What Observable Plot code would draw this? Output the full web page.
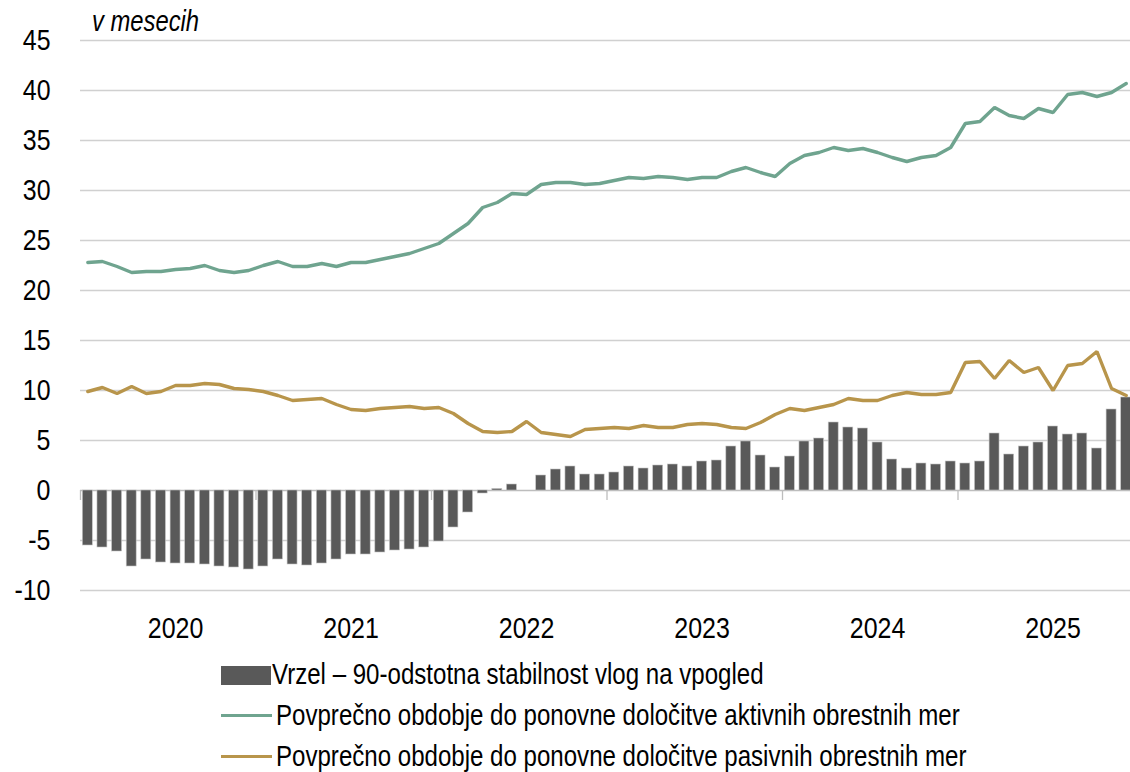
<!DOCTYPE html>
<html>
<head>
<meta charset="utf-8">
<script src="https://cdn.jsdelivr.net/npm/d3@7"></script>
<script src="https://cdn.jsdelivr.net/npm/@observablehq/plot@0.6"></script>
<style>
  html, body { margin: 0; padding: 0; background: #fff; }
  #wrap { position: relative; width: 1130px; height: 772px; overflow: hidden; background: #fff;
          font-family: "Liberation Sans Narrow", "Arial Narrow", "Liberation Sans", sans-serif; color: #000; }
  #chart { position: absolute; left: 0; top: 0; }
  .title { position: absolute; left: 92px; top: 7px; font-size: 29px; line-height: 29px; font-style: italic;
           white-space: nowrap; transform: scaleX(0.82); transform-origin: left center; }
  .lg { position: absolute; left: 0; font-size: 29px; line-height: 29px; white-space: nowrap; }
  .lg .txt { position: absolute; white-space: nowrap; transform: scaleX(0.83); transform-origin: left center; }
  .sw { position: absolute; }
</style>
</head>
<body>
<div id="wrap">
  <div id="chart"></div>
</div>
<script>
// ---- categories ----
const years = ["2020", "2021", "2022", "2023", "2024", "2025"];
const monthNames = ["01","02","03","04","05","06","07","08","09","10","11","12"];
const months = years.flatMap(y => monthNames.map(m => `${y}-${m}`));

// ---- series ----
const vrzel = [
  -5.5, -5.7, -6.1, -7.6, -6.9, -7.2, -7.3, -7.3, -7.4, -7.6, -7.7, -7.9,
  -7.6, -6.9, -7.4, -7.5, -7.3, -6.9, -6.4, -6.4, -6.2, -6.0, -5.9, -5.7,
  -5.1, -3.7, -2.2, -0.3, 0.15, 0.6, 0.0, 1.5, 2.1, 2.4, 1.6, 1.6,
  1.8, 2.4, 2.2, 2.5, 2.6, 2.4, 2.9, 3.0, 4.4, 4.9, 3.5, 2.3,
  3.4, 4.9, 5.2, 6.8, 6.3, 6.2, 4.8, 3.1, 2.2, 2.7, 2.6, 2.9,
  2.7, 2.9, 5.7, 3.6, 4.4, 4.8, 6.4, 5.6, 5.7, 4.2, 8.1, 9.3
];
const aktivne = [
  22.8, 22.9, 22.4, 21.8, 21.9, 21.9, 22.1, 22.2, 22.5, 22.0, 21.8, 22.0,
  22.5, 22.9, 22.4, 22.4, 22.7, 22.4, 22.8, 22.8, 23.1, 23.4, 23.7, 24.2,
  24.7, 25.7, 26.7, 28.3, 28.8, 29.7, 29.6, 30.6, 30.8, 30.8, 30.6, 30.7,
  31.0, 31.3, 31.2, 31.4, 31.3, 31.1, 31.3, 31.3, 31.9, 32.3, 31.8, 31.4,
  32.7, 33.5, 33.8, 34.3, 34.0, 34.2, 33.8, 33.3, 32.9, 33.3, 33.5, 34.3,
  36.7, 36.9, 38.3, 37.5, 37.2, 38.2, 37.8, 39.6, 39.8, 39.4, 39.8, 40.7
];
const pasivne = [
  9.9, 10.3, 9.7, 10.4, 9.7, 9.9, 10.5, 10.5, 10.7, 10.6, 10.2, 10.1,
  9.9, 9.5, 9.0, 9.1, 9.2, 8.6, 8.1, 8.0, 8.2, 8.3, 8.4, 8.2,
  8.3, 7.7, 6.7, 5.9, 5.8, 5.9, 6.9, 5.8, 5.6, 5.4, 6.1, 6.2,
  6.3, 6.2, 6.5, 6.3, 6.3, 6.6, 6.7, 6.6, 6.3, 6.2, 6.8, 7.6,
  8.2, 8.0, 8.3, 8.6, 9.2, 9.0, 9.0, 9.5, 9.8, 9.6, 9.6, 9.8,
  12.8, 12.9, 11.2, 13.0, 11.8, 12.3, 10.0, 12.5, 12.7, 13.9, 10.2, 9.5
];

// ---- axis / legend text ----
const yTicks = [-10, -5, 0, 5, 10, 15, 20, 25, 30, 35, 40, 45];
const unitLabel = "v mesecih";
const legendLabels = [
  "Vrzel – 90-odstotna stabilnost vlog na vpogled",
  "Povprečno obdobje do ponovne določitve aktivnih obrestnih mer",
  "Povprečno obdobje do ponovne določitve pasivnih obrestnih mer"
];
const colors = { bar: "#595959", akt: "#6fa48f", pas: "#b8954b" };

const data = months.map((m, i) => ({ i, m, year: m.slice(0, 4), gap: vrzel[i], akt: aktivne[i], pas: pasivne[i] }));
const yearStarts = data.filter(d => d.m.endsWith("-01")).map(d => d.i - 0.5);
const yearCenters = data.filter(d => d.m.endsWith("-07")).map(d => d.i);

const font = '"Liberation Sans Narrow", "Arial Narrow", "Liberation Sans", sans-serif';

const chart = Plot.plot({
  width: 1130,
  height: 650,
  marginLeft: 80,
  marginRight: 0,
  marginTop: 40,
  marginBottom: 60,
  style: { fontFamily: font, fontSize: "29px", color: "#000", background: "#fff", overflow: "visible" },
  x: { type: "linear", domain: [-0.5, months.length - 0.5], range: [80, 1133], axis: null },
  y: { domain: [-10, 45], range: [590, 40], axis: null },
  marks: [
    Plot.ruleY(yTicks.filter(d => d !== 0), { stroke: "#d0d0d0", strokeWidth: 1.3 }),
    Plot.ruleY([0], { stroke: "#bdbdbd", strokeWidth: 1.3 }),
    Plot.ruleX(yearStarts, { x: d => d, y1: 0, y2: -1, stroke: "#bdbdbd", strokeWidth: 1.3 }),
    Plot.rectY(data, { x1: d => d.i - 0.34, x2: d => d.i + 0.34, y1: 0, y2: "gap", fill: colors.bar, stroke: "#c4c4c4", strokeWidth: 0.6 }),
    Plot.line(data, { x: "i", y: "akt", stroke: colors.akt, strokeWidth: 3.4, strokeLinejoin: "miter" }),
    Plot.line(data, { x: "i", y: "pas", stroke: colors.pas, strokeWidth: 3.4, strokeLinejoin: "miter" }),
    Plot.axisY(yTicks, { tickSize: 0, tickPadding: 30, tickFormat: d => String(d), label: null, fontSize: 29 }),
    Plot.axisX(yearCenters, { tickSize: 0, tickPadding: 27, tickFormat: i => months[i].slice(0, 4), label: null, fontSize: 29, anchor: "bottom" })
  ]
});
document.getElementById("chart").appendChild(chart);

// condense the axis text to imitate a narrow typeface
chart.querySelectorAll("text").forEach(t => {
  const w = t.getComputedTextLength();
  if (w > 0) {
    t.setAttribute("textLength", (w * 0.86).toFixed(1));
    t.setAttribute("lengthAdjust", "spacingAndGlyphs");
  }
});

const wrap = document.getElementById("wrap");
const t = document.createElement("div");
t.className = "title";
t.textContent = unitLabel;
wrap.appendChild(t);

const rowTops = [660, 701, 742];
legendLabels.forEach((lab, k) => {
  const row = document.createElement("div");
  row.className = "lg";
  row.style.top = rowTops[k] + "px";
  row.style.width = "1130px";
  row.style.height = "30px";
  const sw = document.createElement("div");
  sw.className = "sw";
  if (k === 0) {
    sw.style.left = "221px"; sw.style.top = "6px"; sw.style.width = "50px"; sw.style.height = "19px";
    sw.style.background = colors.bar;
  } else {
    sw.style.left = "221px"; sw.style.top = "13px"; sw.style.width = "51px"; sw.style.height = "3px";
    sw.style.background = k === 1 ? colors.akt : colors.pas;
  }
  row.appendChild(sw);
  const tx = document.createElement("span");
  tx.className = "txt";
  tx.style.left = (k === 0 ? 272 : 276) + "px";
  tx.style.top = "0px";
  tx.textContent = lab;
  row.appendChild(tx);
  wrap.appendChild(row);
});
</script>
</body>
</html>
